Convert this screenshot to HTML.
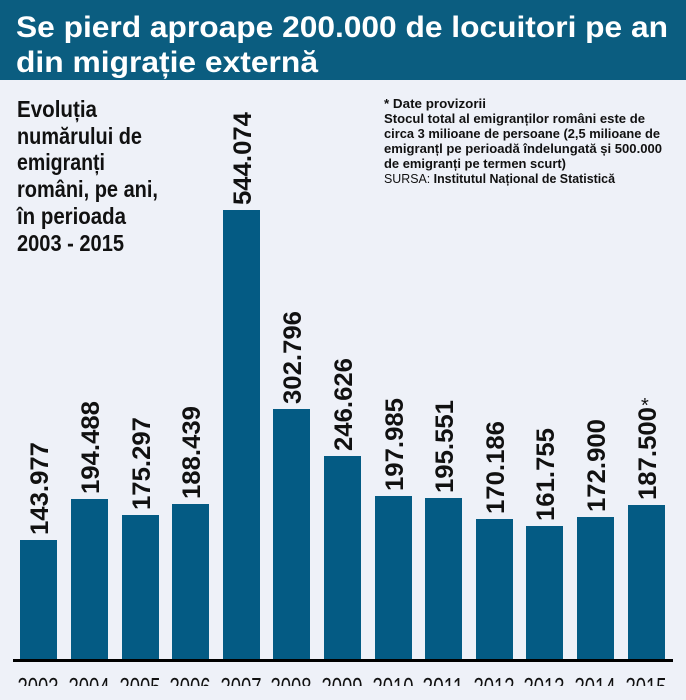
<!DOCTYPE html>
<html><head><meta charset="utf-8"><style>
html,body{margin:0;padding:0;background:#eef1f8;}
svg{display:block;}
text{font-family:"Liberation Sans",sans-serif;}
</style></head><body>
<svg width="686" height="700" viewBox="0 0 686 700" xmlns="http://www.w3.org/2000/svg">
<rect x="0" y="0" width="686" height="700" fill="#eef1f8"/>
<rect x="0" y="0" width="686" height="80" fill="#0b5d80"/>
<text x="16" y="37" font-size="30" font-weight="bold" fill="#fff" textLength="652" lengthAdjust="spacingAndGlyphs">Se pierd aproape 200.000 de locuitori pe an</text>
<text x="16" y="72" font-size="30" font-weight="bold" fill="#fff" textLength="302" lengthAdjust="spacingAndGlyphs">din migrație externă</text>

<g font-size="23" font-weight="bold" fill="#111">
<text x="17" y="117" textLength="80" lengthAdjust="spacingAndGlyphs">Evoluția</text>
<text x="17" y="144" textLength="125" lengthAdjust="spacingAndGlyphs">numărului de</text>
<text x="17" y="170" textLength="88" lengthAdjust="spacingAndGlyphs">emigranți</text>
<text x="17" y="197" textLength="141" lengthAdjust="spacingAndGlyphs">români, pe ani,</text>
<text x="17" y="224" textLength="109" lengthAdjust="spacingAndGlyphs">în perioada</text>
<text x="17" y="251" textLength="107" lengthAdjust="spacingAndGlyphs">2003 - 2015</text>
</g>

<g font-size="13" font-weight="bold" fill="#111">
<text x="384" y="108" textLength="102" lengthAdjust="spacingAndGlyphs">* Date provizorii</text>
<text x="384" y="123" textLength="261" lengthAdjust="spacingAndGlyphs">Stocul total al emigranților români este de</text>
<text x="384" y="138" textLength="276" lengthAdjust="spacingAndGlyphs">circa 3 milioane de persoane (2,5 milioane de</text>
<text x="384" y="153" textLength="278" lengthAdjust="spacingAndGlyphs">emigranțl pe perioadă îndelungată și 500.000</text>
<text x="384" y="168" textLength="182" lengthAdjust="spacingAndGlyphs">de emigranți pe termen scurt)</text>
<text x="384" y="183" textLength="231" lengthAdjust="spacingAndGlyphs"><tspan font-weight="normal">SURSA: </tspan>Institutul Național de Statistică</text>
</g>

<g fill="#045b84">
<rect x="20" y="540" width="37" height="120"/>
<rect x="71" y="499" width="37" height="161"/>
<rect x="122" y="515" width="37" height="145"/>
<rect x="172" y="504" width="37" height="156"/>
<rect x="223" y="210" width="37" height="450"/>
<rect x="273" y="409" width="37" height="251"/>
<rect x="324" y="456" width="37" height="204"/>
<rect x="375" y="496" width="37" height="164"/>
<rect x="425" y="498" width="37" height="162"/>
<rect x="476" y="519" width="37" height="141"/>
<rect x="526" y="526" width="37" height="134"/>
<rect x="577" y="517" width="37" height="143"/>
<rect x="628" y="505" width="37" height="155"/>
</g>

<g font-size="25" font-weight="bold" fill="#111">
<text transform="translate(48,535) rotate(-90)" textLength="93" lengthAdjust="spacingAndGlyphs">143.977</text>
<text transform="translate(99,494) rotate(-90)" textLength="93" lengthAdjust="spacingAndGlyphs">194.488</text>
<text transform="translate(150,510) rotate(-90)" textLength="93" lengthAdjust="spacingAndGlyphs">175.297</text>
<text transform="translate(200,499) rotate(-90)" textLength="93" lengthAdjust="spacingAndGlyphs">188.439</text>
<text transform="translate(251,205) rotate(-90)" textLength="93" lengthAdjust="spacingAndGlyphs">544.074</text>
<text transform="translate(301,404) rotate(-90)" textLength="93" lengthAdjust="spacingAndGlyphs">302.796</text>
<text transform="translate(352,451) rotate(-90)" textLength="93" lengthAdjust="spacingAndGlyphs">246.626</text>
<text transform="translate(403,491) rotate(-90)" textLength="93" lengthAdjust="spacingAndGlyphs">197.985</text>
<text transform="translate(453,493) rotate(-90)" textLength="93" lengthAdjust="spacingAndGlyphs">195.551</text>
<text transform="translate(504,514) rotate(-90)" textLength="93" lengthAdjust="spacingAndGlyphs">170.186</text>
<text transform="translate(554,521) rotate(-90)" textLength="93" lengthAdjust="spacingAndGlyphs">161.755</text>
<text transform="translate(605,512) rotate(-90)" textLength="93" lengthAdjust="spacingAndGlyphs">172.900</text>
<text transform="translate(656,500) rotate(-90)" textLength="93" lengthAdjust="spacingAndGlyphs">187.500</text>
</g>
<text x="641" y="412" font-size="20" fill="#111">*</text>

<rect x="13" y="659" width="660" height="3" fill="#000"/>

<g font-size="26" fill="#111" text-anchor="middle">
<text x="38" y="696" textLength="41" lengthAdjust="spacingAndGlyphs">2003</text>
<text x="89" y="696" textLength="41" lengthAdjust="spacingAndGlyphs">2004</text>
<text x="140" y="696" textLength="41" lengthAdjust="spacingAndGlyphs">2005</text>
<text x="190" y="696" textLength="41" lengthAdjust="spacingAndGlyphs">2006</text>
<text x="241" y="696" textLength="41" lengthAdjust="spacingAndGlyphs">2007</text>
<text x="291" y="696" textLength="41" lengthAdjust="spacingAndGlyphs">2008</text>
<text x="342" y="696" textLength="41" lengthAdjust="spacingAndGlyphs">2009</text>
<text x="393" y="696" textLength="41" lengthAdjust="spacingAndGlyphs">2010</text>
<text x="443" y="696" textLength="41" lengthAdjust="spacingAndGlyphs">2011</text>
<text x="494" y="696" textLength="41" lengthAdjust="spacingAndGlyphs">2012</text>
<text x="544" y="696" textLength="41" lengthAdjust="spacingAndGlyphs">2013</text>
<text x="595" y="696" textLength="41" lengthAdjust="spacingAndGlyphs">2014</text>
<text x="646" y="696" textLength="41" lengthAdjust="spacingAndGlyphs">2015</text>
</g>
<rect x="0" y="686" width="686" height="14" fill="#eef1f8"/>
</svg>
</body></html>
